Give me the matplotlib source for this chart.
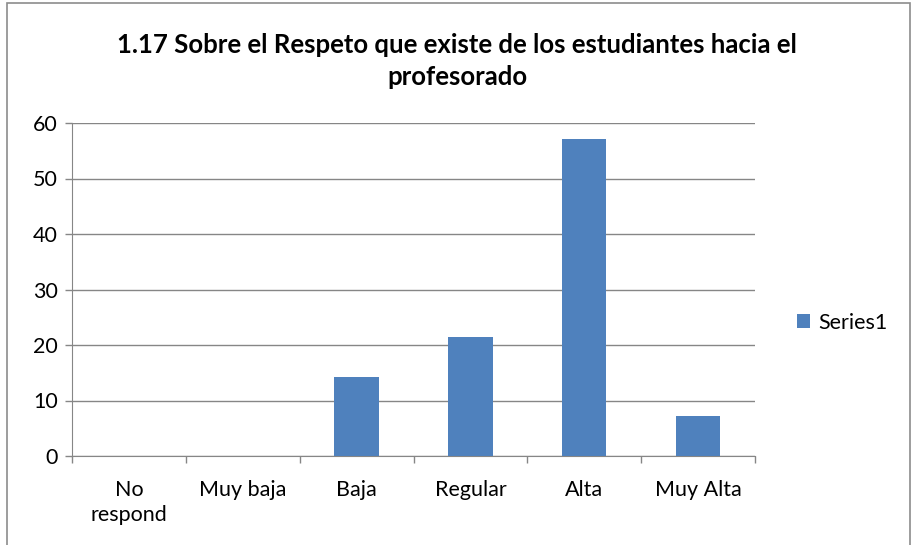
import matplotlib
matplotlib.use('Agg')
import matplotlib.pyplot as plt
from matplotlib.patches import Rectangle

# data (percent of 14 respondents)
categories = ['No\nrespond', 'Muy baja', 'Baja', 'Regular', 'Alta', 'Muy Alta']
values = [0, 0, 14.29, 21.43, 57.14, 7.14]
series_name = 'Series1'
title = '1.17 Sobre el Respeto que existe de los estudiantes hacia el\nprofesorado'

plt.rcParams['font.family'] = ['Lato', 'DejaVu Sans']

W, H = 913, 545
fig = plt.figure(figsize=(W / 100, H / 100), dpi=100)

# outer chart border (bottom edge cut off in the original)
fig.patches.append(Rectangle((7 / W, -0.05), 903 / W, 1.05 - 3 / H,
                             transform=fig.transFigure, fill=False,
                             edgecolor='#8c8c8c', linewidth=1.2))

ax = fig.add_axes([72 / W, 1 - 456 / H, 683 / W, 333 / H])
x = list(range(len(categories)))
ax.bar(x, values, width=0.39, color='#4f81bd', label=series_name, zorder=3)

ax.set_xlim(-0.5, len(categories) - 0.5)
ax.set_ylim(0, 60)
ax.set_yticks(range(0, 61, 10))
ax.yaxis.grid(True, color='#868686', linewidth=1)
ax.set_axisbelow(True)

ax.set_xticks(x)
ax.set_xticklabels(categories, fontsize=15.5, linespacing=1.35)
ax.set_xticks([i - 0.5 for i in range(len(categories) + 1)], minor=True)
ax.tick_params(axis='x', which='major', length=0, pad=17)
ax.tick_params(axis='x', which='minor', length=5, color='#868686', width=1)
ax.tick_params(axis='y', length=5, color='#868686', width=1, labelsize=15.5, pad=5)

for s in ['top', 'right']:
    ax.spines[s].set_visible(False)
for s in ['left', 'bottom']:
    ax.spines[s].set_color('#868686')

fig.text(457 / W, 1 - 61 / H, title, ha='center', va='center',
         fontsize=18.5, fontweight='bold', linespacing=1.4)

ax.legend(loc='center left', bbox_to_anchor=(1.033, 0.4), frameon=False,
          fontsize=15.5, handlelength=0.6, handleheight=0.6, handletextpad=0.4)

fig.savefig('out.png', dpi=100)
